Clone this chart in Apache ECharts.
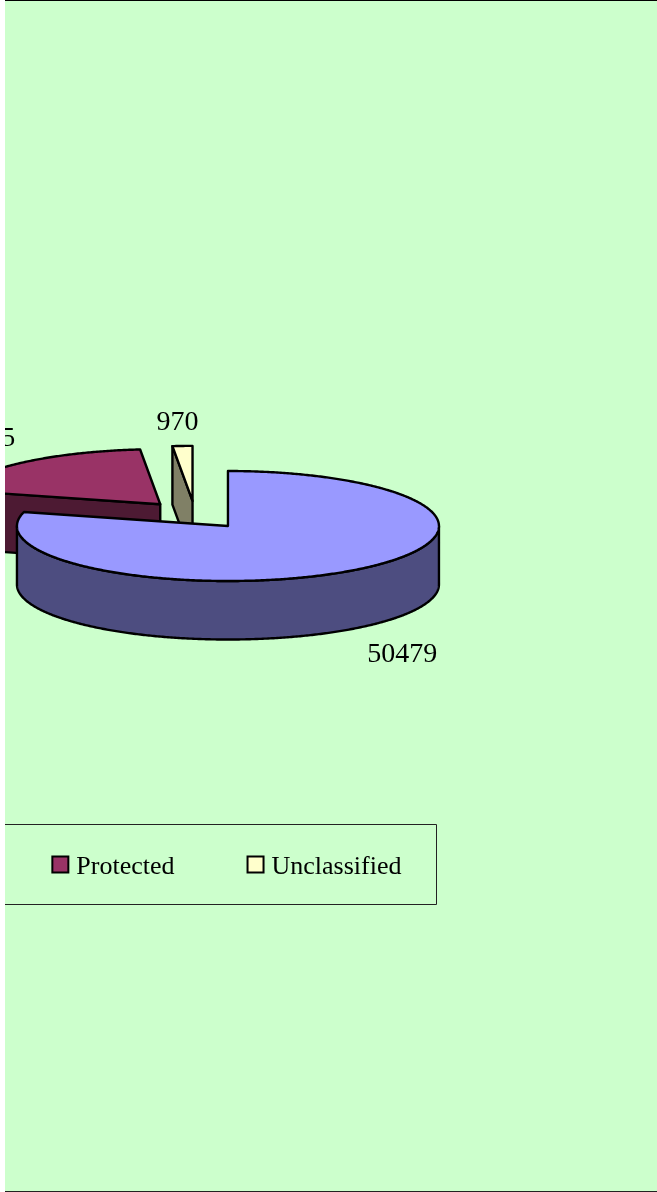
<!DOCTYPE html>
<html>
<head>
<meta charset="utf-8">
<style>
html,body{margin:0;padding:0;background:#fff;width:657px;height:1192px;overflow:hidden}
#chart{position:absolute;left:5px;top:0;width:652px;height:1192px}
</style>
<script src="https://cdn.jsdelivr.net/npm/echarts@6/dist/echarts.min.js"></script>
</head>
<body>
<div id="chart"></div>
<script>
// Data
var categories = ['Classified', 'Protected', 'Unclassified'];
var values = [50479, 12375, 970];
// Styles
var topColors = ['#9999FF', '#993366', '#FFFFCC'];
var sideColors = ['#4D4D80', '#4D1A33', '#808066'];
var labelOffsets = [[45.5, 85.4], [-43.3, -24], [-5, -23.6]];
// 3D pie geometry
var CX = 190.1, CY = 514.9, RX = 211, RY = 55, DEPTH = 58.5, EXPLODE = 0.255;
var FONT = '"Liberation Serif","Times New Roman",serif';

var total = values.reduce(function (a, b) { return a + b; }, 0);
function rad(d) { return d * Math.PI / 180; }
function startAngle(i) {
  var s = 0;
  for (var k = 0; k < i; k++) s += values[k];
  return s / total * 360;
}
function arc(cx, cy, a0, a1) {
  var pts = [], n = Math.max(2, Math.ceil(Math.abs(a1 - a0) * 2));
  for (var j = 0; j <= n; j++) {
    var a = rad(a0 + (a1 - a0) * j / n);
    pts.push([cx + RX * Math.sin(a), cy - RY * Math.cos(a)]);
  }
  return pts;
}
function face(points, fill) {
  return {
    type: 'polygon',
    shape: { points: points },
    style: { fill: fill, stroke: '#000', lineWidth: 2.4, lineJoin: 'round' }
  };
}
function shift(pts) {
  return pts.map(function (p) { return [p[0], p[1] + DEPTH]; });
}
function makeRender(i) {
  return function (params, api) {
    var a0 = startAngle(i);
    var a1 = a0 + api.value(0) / total * 360;
    var mid = rad((a0 + a1) / 2);
    var cx = CX + EXPLODE * RX * Math.sin(mid);
    var cy = CY - EXPLODE * RY * Math.cos(mid);
    var children = [];
    // radial faces
    if (Math.sin(rad(a0)) < -1e-6) {
      var o = arc(cx, cy, a0, a0)[0];
      children.push(face([o, [cx, cy], [cx, cy + DEPTH], [o[0], o[1] + DEPTH]], sideColors[i]));
    }
    if (Math.sin(rad(a1)) > 1e-6) {
      var e = arc(cx, cy, a1, a1)[0];
      children.push(face([e, [cx, cy], [cx, cy + DEPTH], [e[0], e[1] + DEPTH]], sideColors[i]));
    }
    // outer wall (front half only)
    var w0 = Math.max(a0, 90), w1 = Math.min(a1, 270);
    if (w1 > w0) {
      var t = arc(cx, cy, w0, w1);
      children.push(face(t.concat(shift(t).reverse()), sideColors[i]));
    }
    // top
    children.push(face([[cx, cy]].concat(arc(cx, cy, a0, a1)), topColors[i]));
    // label
    var lx = cx + RX * Math.sin(mid) + labelOffsets[i][0];
    var ly = cy - RY * Math.cos(mid) + labelOffsets[i][1];
    children.push({
      type: 'text',
      style: {
        x: lx, y: ly, text: String(api.value(0)), fill: '#000',
        font: '28px ' + FONT, align: 'center', verticalAlign: 'middle'
      }
    });
    return { type: 'group', children: children };
  };
}

var series = categories.map(function (name, i) {
  return {
    type: 'custom',
    name: name,
    coordinateSystem: 'none',
    z: i === 0 ? 5 : 3,
    silent: true,
    itemStyle: { color: topColors[i], borderColor: '#000', borderWidth: 2.4 },
    renderItem: makeRender(i),
    data: [[values[i]]]
  };
});

var chart = echarts.init(document.getElementById('chart'), null, { renderer: 'canvas' });
chart.setOption({
  animation: false,
  backgroundColor: '#CCFFCC',
  legend: {
    data: categories.map(function (n) { return { name: n, icon: 'rect' }; }),
    orient: 'horizontal',
    right: 220.5,
    top: 824.5,
    width: 1000,
    padding: [30, 35, 24, 35],
    itemGap: 72,
    itemWidth: 16,
    itemHeight: 16,
    selectedMode: false,
    borderColor: '#222',
    borderWidth: 1,
    formatter: '{t|{name}}',
    textStyle: {
      fontFamily: FONT, fontSize: 26, color: '#000',
      rich: { t: { fontFamily: FONT, fontSize: 26, color: '#000', padding: [6, 0, 0, 3] } }
    }
  },
  graphic: [
    { type: 'rect', shape: { x: 0, y: 0, width: 652, height: 1 }, style: { fill: '#000' }, silent: true },
    { type: 'rect', shape: { x: 0, y: 1191, width: 652, height: 1 }, style: { fill: '#222' }, silent: true }
  ],
  series: series
});
</script>
</body>
</html>
